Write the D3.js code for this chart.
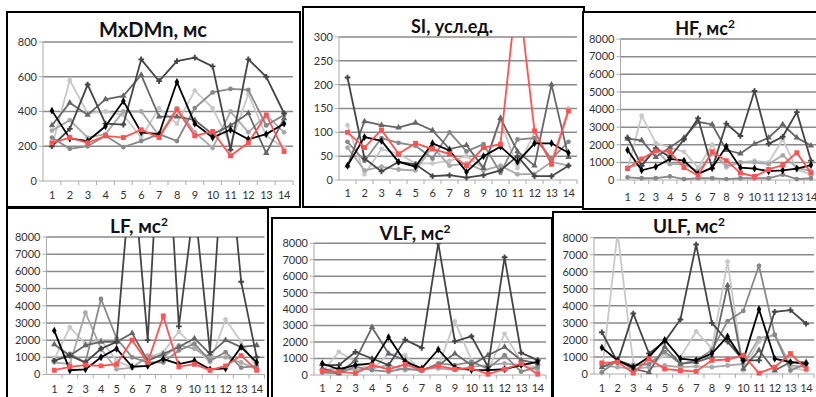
<!DOCTYPE html>
<html lang="ru">
<head>
  <meta charset="UTF-8">
  <title>Показатели ВСР</title>
  <script src="https://cdn.jsdelivr.net/npm/d3@7"></script>
  <style>
    html, body {
      margin: 0;
      padding: 0;
      background: #fff;
      overflow: hidden;
    }
    svg {
      display: block;
      font-family: Lato, 'Open Sans', sans-serif;
    }
    .tick-label { font-size: 11px; fill: #333; }
    .x-label { letter-spacing: -0.4px; }
    .title { font-size: 18px; font-weight: bold; fill: #111; }
  </style>
</head>
<body>
  <svg id="chart" width="816" height="397"></svg>

  <script>
    // Categories (x axis)
    const days = [1, 2, 3, 4, 5, 6, 7, 8, 9, 10, 11, 12, 13, 14];

    // series order in every panel: lighter, light, mid, gray, dark, black, red
    const seriesKeys = ["lighter", "light", "mid", "gray", "dark", "black", "red"];

    const mxdmnValues = [
      [200, 580, 390, 400, 380, 250, 420, 330, 520, 420, 210, 500, 260, 190],
      [290, 350, 250, 270, 400, 400, 260, 420, 280, 190, 400, 280, 380, 280],
      [250, 185, 200, 260, 195, 230, 270, 230, 420, 510, 530, 525, 320, 380],
      [320, 450, 380, 470, 490, 610, 370, 370, 350, 270, 320, 390, 160, 360],
      [200, 300, 555, 330, 325, 700, 575, 690, 710, 660, 180, 700, 600, 390],
      [405, 245, 230, 315, 460, 280, 270, 570, 330, 250, 295, 240, 270, 330],
      [220, 250, 220, 260, 250, 295, 250, 410, 260, 285, 145, 220, 380, 170]
    ];

    const siValues = [
      [115, 12, 65, 55, 35, 35, 40, 50, 25, 125, 25, 100, 40, 150],
      [68, 20, 28, 22, 20, 70, 30, 35, 20, 30, 12, 13, 38, 30],
      [80, 40, 88, 78, 72, 45, 100, 60, 75, 15, 85, 88, 45, 80],
      [30, 123, 115, 110, 120, 104, 65, 73, 25, 130, 60, 30, 200, 48],
      [215, 45, 18, 38, 33, 8, 10, 5, 10, 20, 50, 8, 8, 30],
      [30, 90, 82, 38, 28, 77, 62, 17, 50, 70, 38, 77, 77, 57],
      [100, 68, 105, 55, 77, 65, 55, 30, 68, 75, 410, 103, 33, 145]
    ];

    const hfValues = [
      [600, 3650, 2100, 1850, 1600, 700, 2000, 700, 1000, 1100, 1000, 2300, 600, 300],
      [700, 900, 1700, 900, 900, 500, 1500, 800, 1000, 1000, 900, 1400, 700, 500],
      [150, 100, 100, 200, 50, 100, 100, 50, 100, 100, 100, 300, 50, 100],
      [2350, 2250, 1300, 1850, 2400, 3300, 3150, 1700, 1500, 2050, 2400, 3150, 2400, 1950],
      [2400, 800, 1800, 1300, 2300, 3500, 650, 3200, 2500, 5050, 2050, 2450, 3850, 1100],
      [1700, 550, 750, 1200, 1100, 350, 700, 1900, 700, 650, 500, 550, 650, 850],
      [650, 1200, 1650, 1600, 700, 250, 1600, 1100, 400, 200, 600, 850, 1550, 400]
    ];

    const lfValues = [
      [900, 2750, 1800, 2000, 800, 400, 1000, 1300, 2500, 1600, 700, 3200, 1900, 400],
      [700, 600, 3600, 1500, 300, 400, 1100, 1000, 1700, 1500, 1000, 1000, 700, 300],
      [800, 1200, 700, 4400, 2100, 1000, 700, 700, 1400, 1800, 800, 1300, 400, 500],
      [1750, 1100, 1700, 1900, 1900, 2400, 800, 1200, 1600, 2100, 1200, 2000, 1600, 1700],
      [800, 1100, 700, 1500, 1900, 12500, 2000, 18000, 2800, 10000, 1300, 15000, 5400, 1000],
      [2550, 250, 300, 1000, 1500, 450, 500, 900, 600, 800, 300, 350, 1600, 700],
      [250, 450, 550, 500, 600, 2000, 700, 3400, 450, 600, 250, 500, 1100, 250]
    ];

    const vlfValues = [
      [200, 1400, 800, 300, 1300, 1200, 300, 500, 3250, 900, 300, 2500, 800, 400],
      [300, 400, 300, 400, 600, 300, 400, 400, 300, 500, 600, 700, 600, 300],
      [150, 100, 500, 300, 200, 400, 250, 700, 600, 800, 400, 1200, 200, 500],
      [400, 100, 900, 2900, 1300, 900, 300, 600, 1300, 600, 1200, 1700, 900, 700],
      [600, 600, 1400, 1000, 600, 2150, 1650, 8000, 2050, 2350, 500, 7150, 1350, 900],
      [700, 350, 600, 700, 2300, 800, 400, 1550, 450, 300, 300, 350, 600, 800],
      [250, 200, 100, 600, 350, 650, 300, 550, 350, 400, 50, 350, 700, 50]
    ];

    const ulfValues = [
      [50, 8300, 600, 500, 1100, 1000, 2500, 1500, 6600, 200, 1900, 2300, 400, 200],
      [500, 400, 300, 400, 500, 400, 450, 400, 500, 600, 2100, 2300, 500, 400],
      [100, 800, 500, 600, 1300, 600, 800, 1400, 3100, 3700, 6350, 2300, 200, 600],
      [400, 800, 300, 100, 1600, 600, 700, 1000, 5200, 300, 1400, 200, 700, 700],
      [2450, 700, 3550, 1200, 1900, 3200, 7600, 3000, 1900, 800, 800, 3650, 3750, 2950],
      [1550, 800, 400, 1000, 2000, 900, 800, 1200, 2200, 800, 3800, 900, 700, 600],
      [650, 700, 50, 900, 300, 200, 150, 800, 850, 1100, 50, 400, 1200, 300]
    ];

    // y tick values per panel
    const ticks800 = [0, 200, 400, 600, 800];
    const ticks300 = [0, 50, 100, 150, 200, 250, 300];
    const ticks8000 = [0, 1000, 2000, 3000, 4000, 5000, 6000, 7000, 8000];

    // styles for the series
    const seriesColor = {
      lighter: "#c8c8c8", light: "#a8a8a8", mid: "#888888", gray: "#666666",
      dark: "#454545", black: "#000000", red: "#ff5252"
    };
    const seriesSymbol = {
      lighter: d3.symbolCircle, light: d3.symbolCircle, mid: d3.symbolCircle,
      gray: d3.symbolTriangle, dark: d3.symbolCross, black: d3.symbolDiamond, red: d3.symbolSquare
    };

    // panel layout (box = frame, plot = inner plot area)
    const panels = [
      { name: "MxDMn, мс", sup: "", values: mxdmnValues, ticks: ticks800, tsize: 20,
        box: [7, 12, 300, 207], plot: { l: 43, r: 293, t: 42, b: 181 }, title: [153, 37], xly: 195 },
      { name: "SI, усл.ед.", sup: "", values: siValues, ticks: ticks300, tsize: 18,
        box: [303, 7, 584, 207], plot: { l: 339, r: 577, t: 37, b: 180 }, title: [452, 33], xly: 193 },
      { name: "HF, мс", sup: "2", values: hfValues, ticks: ticks8000, tsize: 18,
        box: [583, 12, 830, 209], plot: { l: 620.5, r: 818, t: 39, b: 180 }, title: [705, 35], xly: 197 },
      { name: "LF, мс", sup: "2", values: lfValues, ticks: ticks8000, tsize: 19,
        box: [7, 208, 268, 420], plot: { l: 46.5, r: 264.5, t: 237, b: 374.5 }, title: [139, 233], xly: 389 },
      { name: "VLF, мс", sup: "2", values: vlfValues, ticks: ticks8000, tsize: 19,
        box: [272, 218, 552, 420], plot: { l: 314, r: 546, t: 243.3, b: 375 }, title: [415, 240], xly: 388 },
      { name: "ULF, мс", sup: "2", values: ulfValues, ticks: ticks8000, tsize: 19,
        box: [553, 212, 830, 420], plot: { l: 594, r: 814, t: 237.7, b: 374 }, title: [689, 233], xly: 388 }
    ];

    const svg = d3.select("#chart");

    panels.forEach((p, pi) => {
      const g = svg.append("g");
      const [bx0, by0, bx1, by1] = p.box;

      // frame
      g.append("rect")
        .attr("x", bx0).attr("y", by0)
        .attr("width", bx1 - bx0).attr("height", by1 - by0)
        .attr("fill", "#fff")
        .attr("stroke", "#000")
        .attr("stroke-width", 2);

      const x = d3.scalePoint().domain(days).range([p.plot.l, p.plot.r]).padding(0.5);
      const yMax = d3.max(p.ticks);
      const y = d3.scaleLinear().domain([0, yMax]).range([p.plot.b, p.plot.t]);

      // gridlines
      g.selectAll("line.grid")
        .data(p.ticks.filter(t => t > 0))
        .enter().append("line")
        .attr("x1", p.plot.l).attr("x2", p.plot.r)
        .attr("y1", d => y(d)).attr("y2", d => y(d))
        .attr("stroke", "#8a8a8a")
        .attr("stroke-width", 1.5);

      // y axis line + ticks
      g.append("line")
        .attr("x1", p.plot.l).attr("x2", p.plot.l)
        .attr("y1", p.plot.t).attr("y2", p.plot.b)
        .attr("stroke", "#aaa");
      g.selectAll("line.ytick")
        .data(p.ticks)
        .enter().append("line")
        .attr("x1", p.plot.l - 4).attr("x2", p.plot.l)
        .attr("y1", d => y(d)).attr("y2", d => y(d))
        .attr("stroke", "#aaa");
      g.selectAll("text.ylab")
        .data(p.ticks)
        .enter().append("text")
        .attr("class", "tick-label")
        .attr("x", p.plot.l - 6)
        .attr("y", d => y(d))
        .attr("dy", "0.35em")
        .attr("text-anchor", "end")
        .text(d => d);

      // x axis line + boundary ticks
      g.append("line")
        .attr("x1", p.plot.l).attr("x2", p.plot.r)
        .attr("y1", p.plot.b).attr("y2", p.plot.b)
        .attr("stroke", "#aaa");
      const step = x.step();
      g.selectAll("line.xtick")
        .data(days)
        .enter().append("line")
        .attr("x1", d => x(d) + step / 2).attr("x2", d => x(d) + step / 2)
        .attr("y1", p.plot.b).attr("y2", p.plot.b + 4)
        .attr("stroke", "#aaa");
      g.selectAll("text.xlab")
        .data(days)
        .enter().append("text")
        .attr("class", "tick-label x-label")
        .attr("x", d => x(d))
        .attr("y", p.xly)
        .attr("dy", "0.35em")
        .attr("text-anchor", "middle")
        .text(d => d);

      // clip so runaway values stop at the top of the plot
      const clipId = "clip" + pi;
      svg.append("clipPath").attr("id", clipId)
        .append("rect")
        .attr("x", p.plot.l - 4).attr("y", p.plot.t)
        .attr("width", p.plot.r - p.plot.l + 8)
        .attr("height", p.plot.b - p.plot.t + 6);

      const plotG = g.append("g").attr("clip-path", `url(#${clipId})`);
      const line = d3.line().x((d, i) => x(days[i])).y(d => y(d));

      p.values.forEach((vals, si) => {
        const key = seriesKeys[si];
        const col = seriesColor[key];
        plotG.append("path")
          .datum(vals)
          .attr("d", line)
          .attr("fill", "none")
          .attr("stroke", col)
          .attr("stroke-width", 1.8);
        plotG.selectAll(null)
          .data(vals)
          .enter().append("path")
          .attr("transform", (d, i) => `translate(${x(days[i])},${y(d)})`)
          .attr("d", d3.symbol().type(seriesSymbol[key]).size(key === "red" ? 24 : 18))
          .attr("fill", col);
      });

      // title
      const t = g.append("text")
        .attr("class", "title")
        .attr("x", p.title[0])
        .attr("y", p.title[1])
        .attr("text-anchor", "middle")
        .style("font-size", p.tsize + "px")
        .text(p.name);
      if (p.sup) {
        t.append("tspan")
          .attr("dy", -7)
          .style("font-size", "12px")
          .text(p.sup);
      }
    });
  </script>
</body>
</html>
